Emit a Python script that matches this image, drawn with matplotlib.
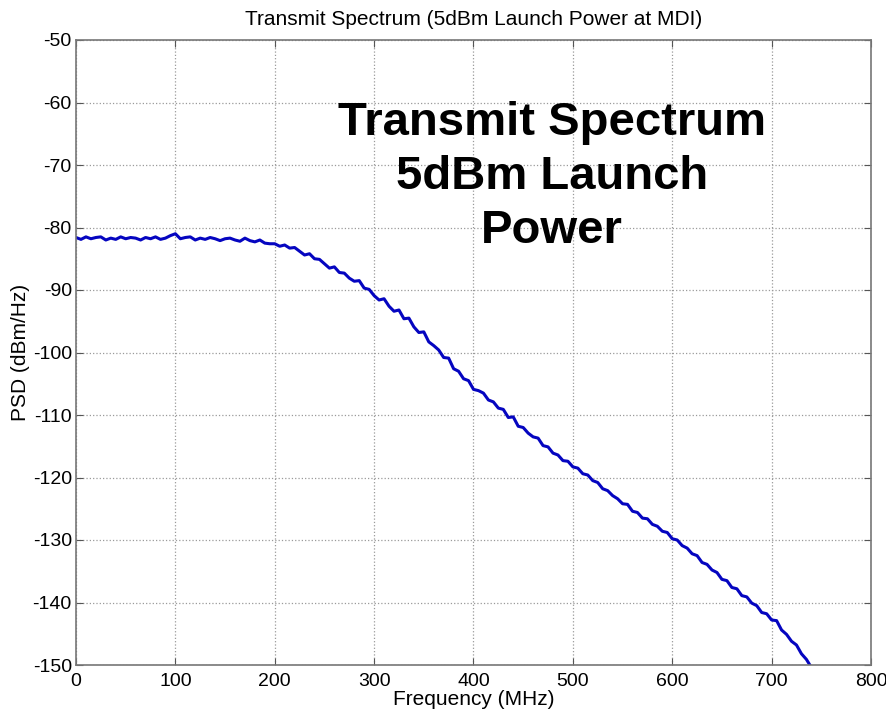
import matplotlib.pyplot as plt
import numpy as np

plt.rcParams['font.family'] = ['Liberation Sans', 'DejaVu Sans']
plt.rcParams['axes.unicode_minus'] = False

# frequency (MHz) and PSD (dBm/Hz), every 5 MHz
freq = np.arange(0, 745, 5)
psd = [-81.6, -81.9, -81.5, -81.8, -81.6, -81.5, -82.0, -81.7, -81.9, -81.5,
       -81.8, -81.6, -81.7, -82.0, -81.6, -81.8, -81.5, -81.9, -81.7, -81.3,
       -81.0, -81.8, -81.6, -81.5, -82.0, -81.7, -81.9, -81.6, -81.8, -82.1,
       -81.8, -81.7, -82.0, -82.2, -81.7, -82.1, -82.3, -82.0, -82.5, -82.6,
       -82.6, -83.0, -82.8, -83.3, -83.2, -83.8, -84.4, -84.2, -85.0, -85.1,
       -85.8, -86.5, -86.3, -87.2, -87.3, -88.1, -88.6, -88.5, -89.7, -89.9,
       -90.9, -91.6, -91.4, -92.6, -93.4, -93.2, -94.6, -94.5, -95.9, -96.8,
       -96.7, -98.3, -98.9, -99.6, -100.8, -100.9, -102.6, -103.0, -104.2, -104.5,
       -105.9, -106.1, -106.5, -107.6, -107.9, -108.9, -109.1, -110.4, -110.3, -111.8,
       -112.0, -112.9, -113.5, -113.7, -114.9, -115.1, -116.1, -116.4, -117.3, -117.4,
       -118.3, -118.5, -119.4, -119.6, -120.5, -120.8, -121.8, -122.1, -122.9, -123.4,
       -124.2, -124.3, -125.4, -125.6, -126.5, -126.6, -127.5, -127.8, -128.6, -128.8,
       -129.8, -130.0, -130.9, -131.3, -132.2, -132.5, -133.6, -133.9, -134.8, -135.2,
       -136.3, -136.5, -137.6, -137.8, -138.9, -139.1, -140.1, -140.5, -141.6, -141.8,
       -142.8, -142.9, -144.4, -145.1, -146.2, -146.8, -148.2, -149.1, -150.4]

xticks = [0, 100, 200, 300, 400, 500, 600, 700, 800]
yticks = [-150, -140, -130, -120, -110, -100, -90, -80, -70, -60, -50]

fig = plt.figure(figsize=(8.87, 7.18), dpi=100)
ax = fig.add_axes([76/887, 1-665/718, 795/887, 625/718])

ax.plot(freq, psd, color='#0505c0', linewidth=2.2)

ax.set_xlim(0, 800)
ax.set_ylim(-150, -50)
ax.set_xticks(xticks)
ax.set_yticks(yticks)
ax.grid(True, linestyle=':', color='#9a9a9a', linewidth=0.9)
ax.tick_params(direction='in', length=5, top=True, right=True, labelsize=14,
               color='#555555', pad=3)
ax.tick_params(axis='x', pad=6)
for s in ax.spines.values():
    s.set_color('#777777')
    s.set_linewidth(1.2)

ax.set_title('Transmit Spectrum (5dBm Launch Power at MDI)', fontsize=15, pad=11)
ax.set_xlabel('Frequency (MHz)', fontsize=15, labelpad=0)
ax.set_ylabel('PSD (dBm/Hz)', fontsize=15, labelpad=2)

ax.text(479, -71.9, 'Transmit Spectrum\n5dBm Launch\nPower', ha='center', va='center',
        fontsize=34, fontweight='bold', multialignment='center', linespacing=1.3)

plt.savefig('out.png', dpi=100)
